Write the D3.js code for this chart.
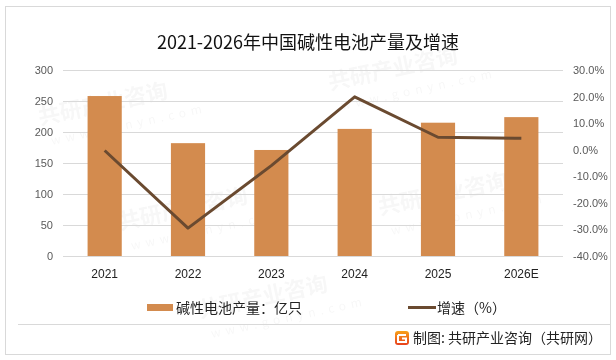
<!DOCTYPE html>
<html><head><meta charset="utf-8">
<script src="https://cdn.jsdelivr.net/npm/d3@7"></script>
<style>body{margin:0;background:#fff;}svg{display:block;}</style>
</head><body>
<script>
const categories = ["2021","2022","2023","2024","2025","2026E"];
const production = [258, 182, 171, 205, 215, 224];
const growth = [-0.3, -29.5, -6.0, 19.9, 4.7, 4.3];
const leftTicks = [0,50,100,150,200,250,300];
const rightTicks = [-40,-30,-20,-10,0,10,20,30];

const W=616,H=360;
const svg=d3.select("body").append("svg").attr("width",W).attr("height",H);
const font="'Microsoft YaHei','Noto Sans CJK SC','Noto Sans',sans-serif";

// faint watermarks (kept inside the frame)
const wm=svg.append("g").attr("fill","#000").attr("opacity",0.035).attr("font-family",font).attr("font-weight","bold");
[[40,125],[330,90],[120,230],[380,215],[200,318]].forEach(([x,y])=>{
  wm.append("text").attr("transform",`translate(${x},${y}) rotate(-12)`).attr("font-size",22).text("共研产业咨询");
  wm.append("text").attr("transform",`translate(${x+12},${y+20}) rotate(-12)`).attr("font-size",12).attr("font-weight","normal").attr("letter-spacing",5).text("www.gonyn.com");
});

// frame
svg.append("rect").attr("x",5.5).attr("y",6.5).attr("width",605).attr("height",348).attr("fill","none").attr("stroke","#d9d9d9");
svg.append("line").attr("x1",18).attr("x2",610).attr("y1",324.5).attr("y2",324.5).attr("stroke","#d9d9d9");

svg.append("text").attr("x",308).attr("y",49).attr("text-anchor","middle").attr("font-family",font).attr("font-size",18).attr("fill","#111").text("2021-2026年中国碱性电池产量及增速");

const x=d3.scaleBand().domain(categories).range([63,563]).paddingInner(0.59).paddingOuter(0.295);
const yL=d3.scaleLinear().domain([0,300]).range([256,70]);
const yR=d3.scaleLinear().domain([-40,30]).range([256,70]);

// gridlines
svg.append("g").selectAll("line").data(leftTicks).join("line")
  .attr("x1",63).attr("x2",563).attr("y1",d=>Math.round(yL(d))+0.5).attr("y2",d=>Math.round(yL(d))+0.5)
  .attr("stroke","#d9d9d9");

// left axis
const la=svg.append("g").attr("transform","translate(63,0)").call(d3.axisLeft(yL).tickValues(leftTicks).tickSize(0).tickPadding(10));
la.select(".domain").remove();
la.selectAll("text").attr("font-family","Arial,'Liberation Sans',sans-serif").attr("font-size",11).attr("fill","#595959");

// right axis
const ra=svg.append("g").attr("transform","translate(563,0)").call(d3.axisRight(yR).tickValues(rightTicks).tickSize(0).tickPadding(10).tickFormat(d=>d.toFixed(1)+"%"));
ra.select(".domain").remove();
ra.selectAll("text").attr("font-family","Arial,'Liberation Sans',sans-serif").attr("font-size",11).attr("fill","#595959");

// bars
svg.append("g").selectAll("rect").data(production).join("rect")
  .attr("x",(d,i)=>x(categories[i])).attr("width",x.bandwidth())
  .attr("y",d=>yL(d)).attr("height",d=>yL(0)-yL(d)).attr("fill","#D38B4E");

// x labels
const xa=svg.append("g").attr("transform","translate(0,256)").call(d3.axisBottom(x).tickSize(0).tickPadding(13));
xa.select(".domain").remove();
xa.selectAll("text").attr("font-family","Arial,'Liberation Sans',sans-serif").attr("font-size",12).attr("fill","#222");

// line
const line=d3.line().x((d,i)=>x(categories[i])+x.bandwidth()/2).y(d=>yR(d));
svg.append("path").datum(growth).attr("d",line).attr("fill","none").attr("stroke","#6A4A30").attr("stroke-width",3).attr("stroke-linejoin","round");

// legend
svg.append("rect").attr("x",147).attr("y",304).attr("width",26).attr("height",7).attr("fill","#D38B4E");
svg.append("text").attr("x",176).attr("y",313).attr("font-family",font).attr("font-size",14).attr("fill","#222").text("碱性电池产量：亿只");
svg.append("line").attr("x1",408).attr("x2",436).attr("y1",307.5).attr("y2",307.5).attr("stroke","#6A4A30").attr("stroke-width",3);
svg.append("text").attr("x",437).attr("y",313).attr("font-family",font).attr("font-size",14).attr("fill","#222").text("增速（%）");

// source with logo
const lg=svg.append("g").attr("transform","translate(395,331)");
const grad=svg.append("defs").append("linearGradient").attr("id","lgG").attr("x1",0).attr("y1",0).attr("x2",0).attr("y2",1);
grad.append("stop").attr("offset",0).attr("stop-color","#F7A21B");
grad.append("stop").attr("offset",1).attr("stop-color","#E8401C");
lg.append("rect").attr("width",14).attr("height",14).attr("rx",3).attr("fill","url(#lgG)");
lg.append("path").attr("d","M3,4 H11 M3,4 V11 H11 V7.5 H7").attr("stroke","#fff").attr("stroke-width",2).attr("fill","none");
svg.append("text").attr("x",413).attr("y",343).attr("font-family",font).attr("font-size",14).attr("fill","#222").text("制图: 共研产业咨询（共研网）");
</script>
</body></html>
